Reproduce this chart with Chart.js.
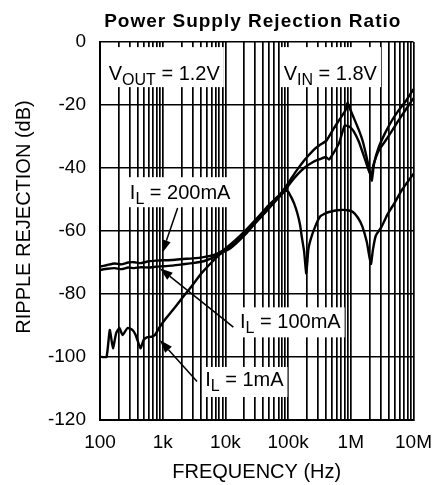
<!DOCTYPE html>
<html>
<head>
<meta charset="utf-8">
<script src="https://cdn.jsdelivr.net/npm/chart.js@4.4.0/dist/chart.umd.min.js"></script>
<style>
  html, body { margin: 0; padding: 0; background: #fff; }
  #wrap { width: 443px; height: 485px; }
</style>
</head>
<body>
<div id="wrap"><canvas id="psrr" width="443" height="485"></canvas></div>
<script>
// --- data (Hz, dB) ---
const freq200mA = [100, 130, 170, 220, 280, 350, 450, 600, 800, 1000, 1400, 2000, 3000, 4500, 6600, 9000,
  11500, 15000, 21000, 28000, 38000, 50000, 61000, 75000, 87000, 110000, 139000, 180000, 254000, 320000,
  406000, 518000, 650000, 750000, 835000, 885000, 950000, 1100000, 1340000, 1550000, 1780000, 2000000,
  2160000, 2350000, 2780000, 3500000, 4500000, 5600000, 7500000, 10000000];
const psrr200mA = [-71.3, -70.8, -70.3, -70.6, -70.0, -69.9, -70.2, -69.6, -69.4, -69.3, -69.2, -68.9, -68.7,
  -68.3, -67.6, -66.3, -64.6, -62.6, -59.8, -57.2, -54.3, -51.6, -50.0, -48.3, -46.6, -43.6, -40.6, -37.6,
  -34.3, -32.7, -31.4, -27.9, -24.8, -23.0, -21.4, -19.3, -20.8, -23.8, -27.9, -31.5, -36.4, -41.0, -44.0,
  -38.5, -33.5, -29.0, -25.0, -22.1, -18.8, -15.0];

const freq100mA = [100, 130, 170, 220, 280, 350, 450, 600, 800, 1000, 1400, 2000, 3000, 4500, 6600, 9000,
  11500, 15000, 21000, 28000, 38000, 50000, 61000, 75000, 87000, 110000, 139000, 180000, 254000, 320000,
  400000, 450000, 520000, 650000, 800000, 950000, 1100000, 1340000, 1700000, 1950000, 2120000, 2300000,
  2780000, 3500000, 4500000, 5600000, 7500000, 10000000];
const psrr100mA = [-72.4, -72.0, -71.8, -72.1, -71.6, -71.8, -71.5, -71.6, -71.3, -71.2, -71.0, -70.6, -70.2,
  -69.6, -68.3, -66.8, -65.2, -63.2, -60.6, -58.0, -55.2, -52.6, -50.8, -48.9, -47.4, -44.6, -42.2, -40.0,
  -38.0, -37.2, -36.5, -37.3, -35.5, -32.1, -26.5, -26.9, -28.2, -31.6, -37.5, -41.0, -42.5, -39.0, -34.5,
  -31.6, -28.3, -25.3, -21.5, -17.8];

const freq1mA = [100, 127, 143, 161, 181, 204, 229, 275, 328, 370, 442, 497, 560, 670, 753, 900, 1100, 1450,
  2000, 2600, 3300, 4200, 6000, 8600, 12000, 21000, 30000, 42800, 60000, 87000, 100000, 111000, 125000,
  140000, 155000, 165000, 180000, 195000, 210000, 227000, 270000, 324000, 400000, 466000, 600000, 745000,
  900000, 1070000, 1300000, 1530000, 1800000, 1950000, 2100000, 2250000, 2500000, 3100000, 3900000,
  4940000, 6500000, 8000000, 10000000];
const psrr1mA = [-99.9, -100.0, -91.4, -97.2, -92.4, -90.8, -93.0, -90.8, -91.4, -93.0, -97.2, -94.6, -93.8,
  -93.5, -93.0, -90.4, -88.0, -85.1, -81.5, -78.7, -76.0, -73.3, -70.0, -67.0, -65.5, -61.0, -57.5, -54.2,
  -50.8, -47.2, -47.5, -49.1, -51.3, -54.3, -58.0, -61.8, -66.5, -73.5, -66.0, -62.9, -58.6, -55.4, -54.3,
  -53.9, -53.4, -53.3, -53.4, -53.9, -55.8, -58.6, -63.5, -67.5, -70.5, -66.0, -61.5, -58.6, -54.5, -51.2,
  -47.0, -44.5, -41.8];

const xMajorTicks = [100, 1000, 10000, 100000, 1000000, 10000000];
const xTickLabels = ['100', '1k', '10k', '100k', '1M', '10M'];
const yMin = -120, yMax = 0, yStep = 20;

// every 1..9 per decade gets a grid line
const xGridTicks = [];
xMajorTicks.forEach((d, i) => {
  if (i === xMajorTicks.length - 1) { xGridTicks.push(d); return; }
  for (let m = 1; m < 10; m++) xGridTicks.push(d * m);
});

const pts = (fs, vs) => fs.map((f, i) => ({ x: f, y: vs[i] }));
const FONT = '"Liberation Sans", Arial, Helvetica, sans-serif';

// labels & arrows in data coordinates
const notes = [
  { f: 138, db: -12.1, main: 'V', sub: 'OUT', rest: ' = 1.2V', up: 33, down: 7 },
  { f: 85000, db: -12.1, main: 'V', sub: 'IN', rest: ' = 1.8V', up: 33, down: 7 },
  { f: 299, db: -49.9, main: 'I', sub: 'L', rest: ' = 200mA', up: 22, down: 8 },
  { f: 17100, db: -90.9, main: 'I', sub: 'L', rest: ' = 100mA', up: 21, down: 9 },
  { f: 4750, db: -109.2, main: 'I', sub: 'L', rest: ' = 1mA', up: 19, down: 11 }
];
const arrows = [
  { f0: 1730, db0: -52.7, f1: 979, db1: -67.0 },
  { f0: 13400, db0: -90.5, f1: 900, db1: -71.8 },
  { f0: 3530, db0: -107.8, f1: 900, db1: -94.6 }
];

function noteWidth(ctx, n) {
  ctx.font = '20px ' + FONT;
  let w = ctx.measureText(n.main).width + ctx.measureText(n.rest).width;
  ctx.font = '16px ' + FONT;
  return w + ctx.measureText(n.sub).width;
}

const notesPlugin = {
  id: 'notes',
  beforeDatasetsDraw(chart) {
    const { ctx, scales: { x, y } } = chart;
    ctx.save();
    ctx.fillStyle = '#fff';
    notes.forEach(n => {
      const px = x.getPixelForValue(n.f), py = y.getPixelForValue(n.db);
      const w = noteWidth(ctx, n);
      ctx.fillRect(px - 3, py - n.up, w + 7, n.up + n.down);
    });
    ctx.restore();
  },
  afterDatasetsDraw(chart) {
    const { ctx, scales: { x, y } } = chart;
    ctx.save();
    ctx.fillStyle = '#000';
    ctx.strokeStyle = '#000';
    ctx.textBaseline = 'alphabetic';
    ctx.textAlign = 'left';
    notes.forEach(n => {
      let px = x.getPixelForValue(n.f);
      const py = y.getPixelForValue(n.db);
      ctx.font = '20px ' + FONT;
      ctx.fillText(n.main, px, py);
      px += ctx.measureText(n.main).width;
      ctx.font = '16px ' + FONT;
      ctx.fillText(n.sub, px, py + 5);
      px += ctx.measureText(n.sub).width;
      ctx.font = '20px ' + FONT;
      ctx.fillText(n.rest, px, py);
    });
    arrows.forEach(a => {
      const x0 = x.getPixelForValue(a.f0), y0 = y.getPixelForValue(a.db0);
      const x1 = x.getPixelForValue(a.f1), y1 = y.getPixelForValue(a.db1);
      const ang = Math.atan2(y1 - y0, x1 - x0);
      const hl = 13, hw = 4.5;
      const bx = x1 - hl * Math.cos(ang), by = y1 - hl * Math.sin(ang);
      ctx.lineWidth = 1.5;
      ctx.beginPath();
      ctx.moveTo(x0, y0);
      ctx.lineTo(bx, by);
      ctx.stroke();
      ctx.beginPath();
      ctx.moveTo(x1, y1);
      ctx.lineTo(bx + hw * Math.sin(ang), by - hw * Math.cos(ang));
      ctx.lineTo(bx - hw * Math.sin(ang), by + hw * Math.cos(ang));
      ctx.closePath();
      ctx.fill();
    });

    // chart title, a bit wide like the original
    const cx = (chart.chartArea.left + chart.chartArea.right) / 2 - 4;
    ctx.font = 'bold 19px ' + FONT;
    ctx.textAlign = 'center';
    ctx.textBaseline = 'alphabetic';
    ctx.letterSpacing = '1px';
    ctx.fillText('Power Supply Rejection Ratio', cx, 27);
    ctx.letterSpacing = '0px';

    // y axis title
    ctx.save();
    ctx.translate(24, 217);
    ctx.rotate(-Math.PI / 2);
    ctx.font = '20px ' + FONT;
    ctx.textAlign = 'center';
    ctx.textBaseline = 'middle';
    ctx.fillText('RIPPLE REJECTION (dB)', 0, 0);
    ctx.restore();
    ctx.restore();
  }
};

const lineStyle = { borderColor: '#000', borderWidth: 2.4, pointRadius: 0, tension: 0.15, fill: false };

new Chart(document.getElementById('psrr'), {
  type: 'line',
  data: {
    datasets: [
      { label: 'IL = 200mA', data: pts(freq200mA, psrr200mA), ...lineStyle },
      { label: 'IL = 100mA', data: pts(freq100mA, psrr100mA), ...lineStyle },
      { label: 'IL = 1mA', data: pts(freq1mA, psrr1mA), ...lineStyle }
    ]
  },
  options: {
    responsive: false,
    animation: false,
    devicePixelRatio: 1,
    layout: { padding: { top: 42, right: 20, bottom: 0, left: 0 } },
    plugins: { legend: { display: false }, tooltip: { enabled: false }, title: { display: false } },
    scales: {
      x: {
        type: 'logarithmic',
        min: 100,
        max: 10000000,
        afterBuildTicks: s => { s.ticks = xGridTicks.map(v => ({ value: v })); },
        afterFit: s => { s.height = 65; },
        ticks: {
          autoSkip: false,
          maxRotation: 0,
          padding: 11,
          color: '#000',
          font: { family: FONT, size: 19 },
          callback: v => {
            const i = xMajorTicks.indexOf(v);
            return i >= 0 ? xTickLabels[i] : '';
          }
        },
        grid: { color: '#000', lineWidth: 1.7, drawTicks: false },
        border: { display: true, color: '#000', width: 2 },
        title: {
          display: true,
          text: 'FREQUENCY (Hz)',
          color: '#000',
          font: { family: FONT, size: 20 },
          padding: { top: 0, bottom: 1 }
        }
      },
      y: {
        type: 'linear',
        min: yMin,
        max: yMax,
        afterFit: s => { s.width = 100; },
        ticks: {
          stepSize: yStep,
          padding: 14,
          color: '#000',
          font: { family: FONT, size: 19 }
        },
        grid: { color: '#000', lineWidth: 1.5, drawTicks: false },
        border: { display: true, color: '#000', width: 2 }
      }
    }
  },
  plugins: [notesPlugin]
});
</script>
</body>
</html>
